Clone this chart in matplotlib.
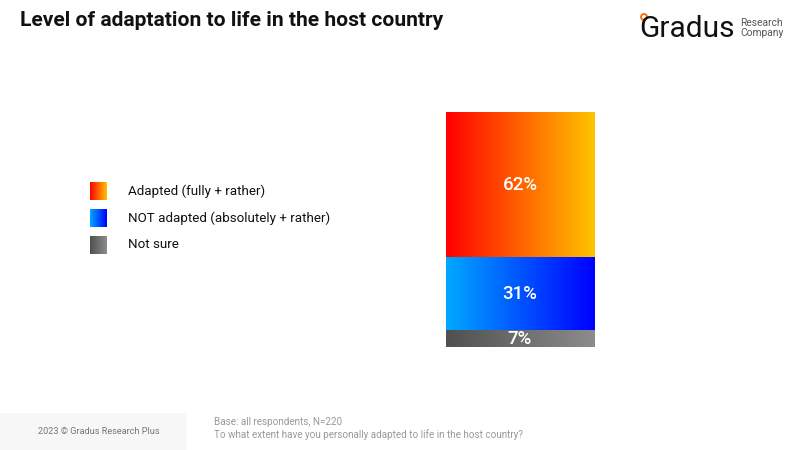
import numpy as np
import matplotlib.pyplot as plt
from matplotlib.colors import LinearSegmentedColormap
from matplotlib.patches import Rectangle, Circle

categories = ['Adapted (fully + rather)', 'NOT adapted (absolutely + rather)', 'Not sure']
values = [62, 31, 7]
labels = ['62%', '31%', '7%']
grad_colors = [('#ff0000', '#ffc400'), ('#00a8ff', '#0000ff'), ('#505050', '#8c8c8c')]

plt.rcParams['font.family'] = ['Roboto', 'DejaVu Sans']

fig = plt.figure(figsize=(8, 4.5), dpi=100)

# background axes in pixel coordinates for the page decoration
bg = fig.add_axes([0, 0, 1, 1])
bg.set_xlim(0, 800)
bg.set_ylim(450, 0)
bg.axis('off')

grad = np.linspace(0, 1, 256).reshape(1, -1)

bg.text(20, 21, 'Level of adaptation to life in the host country', fontsize=15.1,
        fontweight='bold', va='center', ha='left', color='#111111')

# logo
bg.add_patch(Circle((644, 17), 3.2, color='#ff6a00'))
bg.add_patch(Circle((644, 17), 1.3, color='white'))
bg.text(639, 29, 'Gradus', fontsize=21.5, va='center', ha='left', color='#111111')
bg.text(740, 28, 'Research\nCompany', fontsize=7.4, va='center', ha='left',
        color='#555555', linespacing=1.0)

# legend with gradient swatches
for i, (cat, (c1, c2)) in enumerate(zip(categories, grad_colors)):
    y0 = 182 + i * 27
    cmap = LinearSegmentedColormap.from_list('g%d' % i, [c1, c2])
    bg.imshow(grad, cmap=cmap, extent=[90, 107, y0 + 18, y0], aspect='auto', zorder=2)
    bg.text(128, y0 + 9, cat, fontsize=9.6, va='center', ha='left', color='#111111')
bg.set_xlim(0, 800)
bg.set_ylim(450, 0)

# footer
bg.add_patch(Rectangle((0, 413), 187, 37, color='#f7f7f7', lw=0))
bg.text(38, 432, '2023 © Gradus Research Plus', fontsize=6.6, va='center',
        ha='left', color='#777777')
bg.text(214, 422, 'Base: all respondents, N=220', fontsize=7.1, va='center',
        ha='left', color='#999999')
bg.text(214, 435, 'To what extent have you personally adapted to life in the host country?',
        fontsize=7.1, va='center', ha='left', color='#999999')

# stacked bar with gradient fills
ax = fig.add_axes([445.7 / 800, 1 - 347.3 / 450, (594.3 - 445.7) / 800, 235.6 / 450])
ax.set_xlim(0, 1)
ax.set_ylim(0, sum(values))
ax.axis('off')
top = sum(values)
for i, (v, lab, (c1, c2)) in enumerate(zip(values, labels, grad_colors)):
    bottom = top - v
    cmap = LinearSegmentedColormap.from_list('b%d' % i, [c1, c2])
    ax.imshow(grad, cmap=cmap, extent=[0, 1, bottom, top], aspect='auto')
    ax.text(0.5, (top + bottom) / 2, lab, fontsize=13.5, color='white',
            ha='center', va='center', fontweight='medium')
    top = bottom
ax.set_xlim(0, 1)
ax.set_ylim(0, sum(values))

fig.savefig('out.png', dpi=100)
